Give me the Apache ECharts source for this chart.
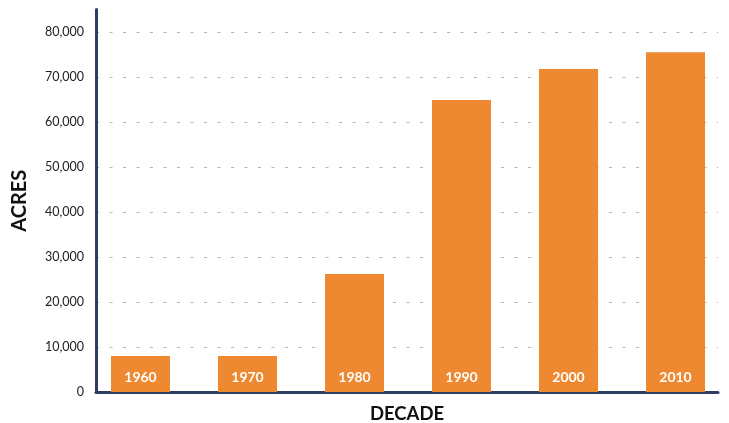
<!DOCTYPE html>
<html>
<head>
<meta charset="utf-8">
<title>Acres by decade</title>
<script src="https://cdn.jsdelivr.net/npm/echarts@6/dist/echarts.min.js"></script>
<style>
  html, body { margin: 0; padding: 0; background: #fff; }
  #container { width: 729px; height: 423px; }
</style>
</head>
<body>
<div id="container"></div>
<script>
var decades = ['1960', '1970', '1980', '1990', '2000', '2010'];
var acres = [8000, 8000, 26200, 64900, 71800, 75500];
var yTicks = [0, 10000, 20000, 30000, 40000, 50000, 60000, 70000, 80000];

var navy = '#2f3d63';
var myChart = echarts.init(document.getElementById('container'));
var option = {
  animation: false,
  textStyle: { fontFamily: 'Lato' },
  grid: [
    { left: 87, right: 0, top: 9.5, bottom: 31, outerBoundsMode: 'none', containLabel: false },
    { left: 96, right: 11, top: 9.5, bottom: 31, outerBoundsMode: 'none', containLabel: false }
  ],
  xAxis: [
    { gridIndex: 0, type: 'category', data: decades, show: false },
    {
      gridIndex: 1, type: 'category', data: decades,
      axisLine: { lineStyle: { color: navy, width: 3 } },
      axisTick: { show: false },
      axisLabel: { show: false },
      name: 'DECADE', nameLocation: 'middle', nameGap: 13,
      nameTextStyle: { fontFamily: 'Lato', fontWeight: 'bold', fontSize: 18.5, color: '#111' }
    }
  ],
  yAxis: [
    { gridIndex: 0, type: 'value', min: 0, max: 85000, show: false },
    {
      gridIndex: 1, type: 'value', min: 0, max: 85000, interval: 10000,
      axisLine: { show: true, lineStyle: { color: navy, width: 3 } },
      axisTick: { show: false },
      axisLabel: {
        margin: 12, fontSize: 12.5, color: '#222', showMaxLabel: false,
        formatter: function (v) {
          return yTicks.indexOf(v) >= 0 ? v.toLocaleString('en-US') : '';
        }
      },
      splitLine: {
        show: true, showMinLine: false, showMaxLine: false,
        lineStyle: { color: '#b5b5b5', type: [3, 10.5], width: 1 }
      },
      name: 'ACRES', nameLocation: 'middle', nameGap: 66,
      nameTextStyle: { fontFamily: 'Lato', fontWeight: 'bold', fontSize: 20, color: '#111' }
    }
  ],
  series: [{
    type: 'bar',
    xAxisIndex: 0, yAxisIndex: 0,
    data: acres,
    barWidth: 59,
    itemStyle: { color: '#ee8831' },
    label: {
      show: true, position: 'insideBottom', distance: 8,
      formatter: function (p) { return p.name; },
      color: '#fff', fontWeight: 'bold', fontSize: 14, fontFamily: 'Lato'
    }
  }]
};
myChart.setOption(option);
</script>
</body>
</html>
